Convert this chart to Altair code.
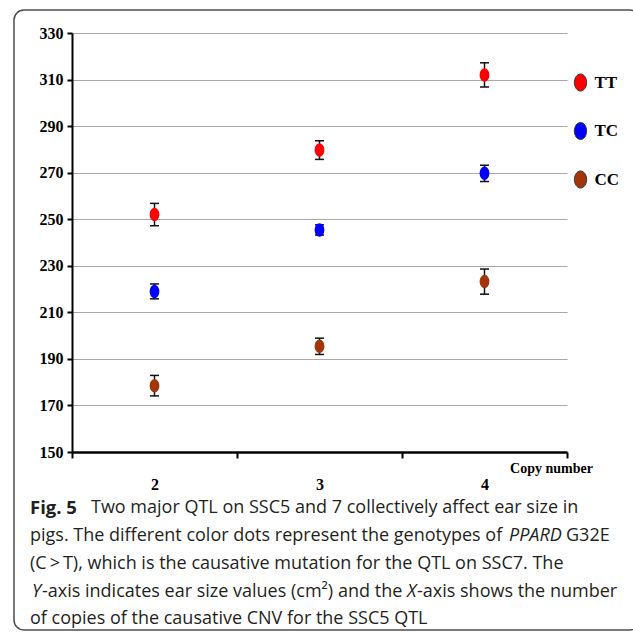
import altair as alt
import pandas as pd

# ---- data ----
copy_number = [2, 3, 4]
genotypes = ["TT", "TC", "CC"]
tt_mean = [252.0, 279.7, 312.0]
tt_err = [4.8, 4.0, 5.2]
tc_mean = [219.0, 245.4, 269.7]
tc_err = [3.2, 2.2, 3.5]
cc_mean = [178.5, 195.4, 223.2]
cc_err = [4.4, 3.5, 5.4]
y_ticks = [150, 170, 190, 210, 230, 250, 270, 290, 310, 330]
colors = ["#ff0000", "#0000ff", "#a3350a"]

rows = []
for g, means, errs in zip(genotypes, [tt_mean, tc_mean, cc_mean], [tt_err, tc_err, cc_err]):
    for c, m, e in zip(copy_number, means, errs):
        rows.append({"copy": c, "genotype": g, "mean": m, "lo": m - e, "hi": m + e})
df = pd.DataFrame(rows)

# layout (pixels)
W, H = 495, 419
PL, PT = 72, 33
ELLIPSE = "M-0.72,0A0.72,1,0,1,1,0.72,0A0.72,1,0,1,1,-0.72,0Z"
SERIF = "Liberation Serif"
CAP_FONT = "Open Sans"
CAP_SIZE = 18
CAP_COLOR = "#231f20"

x_enc = alt.X(
    "copy:Q",
    scale=alt.Scale(domain=[1.5, 4.5], nice=False, zero=False),
    axis=alt.Axis(
        values=[1.5, 2, 2.5, 3, 3.5, 4, 4.5],
        labelExpr="datum.value % 1 === 0 ? format(datum.value, 'd') : ''",
        tickOpacity={"condition": {"test": "datum.value % 1 === 0", "value": 0}, "value": 1},
        grid=False,
        title="Copy number",
        titleX=479,
        titleY=16,
        titleAlign="center",
        titleBaseline="middle",
        titleFont=SERIF,
        titleFontWeight="bold",
        titleFontSize=14,
        titleColor="black",
        labelFont=SERIF,
        labelFontWeight="bold",
        labelFontSize=16,
        labelColor="black",
        labelPadding=18,
        tickSize=6,
        tickWidth=2,
        tickColor="black",
        domainColor="black",
        domainWidth=2.5,
    ),
)

y_scale = alt.Scale(domain=[150, 330], nice=False, zero=False)
y_axis = alt.Axis(
    values=y_ticks,
    title=None,
    grid=True,
    gridColor="#a8a8a8",
    gridWidth=1.2,
    labelFont=SERIF,
    labelFontWeight="bold",
    labelFontSize=16,
    labelColor="black",
    labelPadding=4,
    tickSize=5,
    tickWidth=2,
    tickColor="black",
    domainColor="black",
    domainWidth=2,
)

base = alt.Chart(df)

rules = base.mark_rule(color="#111111", strokeWidth=1.5).encode(
    x=x_enc,
    y=alt.Y("lo:Q", scale=y_scale, axis=y_axis),
    y2="hi:Q",
)
caps_lo = base.mark_tick(orient="horizontal", size=9, thickness=1.5, color="#111111", opacity=1).encode(
    x="copy:Q", y="lo:Q"
)
caps_hi = base.mark_tick(orient="horizontal", size=9, thickness=1.5, color="#111111", opacity=1).encode(
    x="copy:Q", y="hi:Q"
)
points = base.mark_point(filled=True, shape=ELLIPSE, size=182, opacity=1).encode(
    x="copy:Q",
    y="mean:Q",
    color=alt.Color(
        "genotype:N",
        scale=alt.Scale(domain=genotypes, range=colors),
        legend=alt.Legend(
            orient="none",
            legendX=499.5,
            legendY=40.5,
            title=None,
            symbolType=ELLIPSE,
            symbolSize=289,
            symbolStrokeColor="#333333",
            symbolStrokeWidth=1,
            symbolOpacity=1,
            labelFont=SERIF,
            labelFontWeight="bold",
            labelFontSize=17,
            labelColor="black",
            labelOffset=5,
            rowPadding=26.5,
            padding=0,
        ),
    ),
)

dummy = pd.DataFrame({"a": [0]})

frame = alt.Chart(dummy).mark_rect(
    fill="transparent", stroke="#4d4d4d", strokeWidth=1.5, cornerRadius=10
).encode(
    x=alt.value(14 - PL), x2=alt.value(640 - PL), y=alt.value(10 - PT), y2=alt.value(630 - PT)
)


def txt(s, x, y, weight="normal", style="normal", size=CAP_SIZE, align="left"):
    return alt.Chart(dummy).mark_text(
        text=s,
        align=align,
        baseline="middle",
        font=CAP_FONT,
        fontSize=size,
        fontWeight=weight,
        fontStyle=style,
        color=CAP_COLOR,
    ).encode(x=alt.value(x - PL), y=alt.value(y - PT))


L1, L2, L3, L4, L5 = 508, 536, 564, 592, 619
caption = [
    txt("Fig. 5", 30, L1, weight="bold", size=18.5),
    txt("Two major QTL on SSC5 and 7 collectively affect ear size in", 91, L1),
    txt("pigs. The different color dots represent the genotypes of", 30, L2),
    txt("PPARD", 509, L2, style="italic"),
    txt("G32E", 566, L2),
    txt("(C\u2009>\u2009T), which is the causative mutation for the QTL on SSC7. The", 30, L3),
    txt("Y", 32, L4, style="italic"),
    txt("-axis indicates ear size values (cm\u00b2)", 42, L4),
    txt("and the", 338, L4),
    txt("X", 407, L4, style="italic"),
    txt("-axis shows the number", 417, L4),
    txt("of copies of the causative CNV for the SSC5 QTL", 30, L5),
]

chart = alt.layer(frame, rules, caps_lo, caps_hi, points, *caption).properties(
    width=W,
    height=H,
    padding={"left": PL, "top": PT, "right": 633 - PL - W, "bottom": 632 - PT - H},
    autosize=alt.AutoSizeParams(type="none"),
    background="white",
).configure_view(stroke="transparent")

chart.save("out.html", embed_options={"renderer": "svg", "actions": False})
